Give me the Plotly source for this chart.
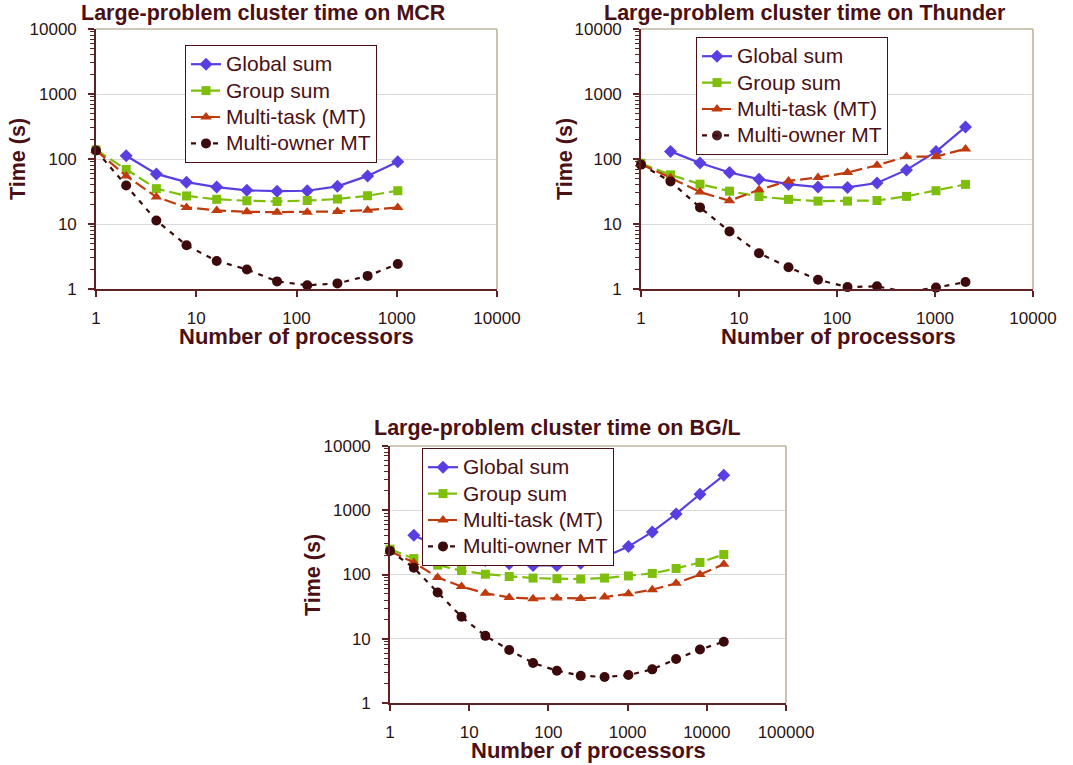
import plotly.graph_objects as go

# ---------------- data ----------------
series_names = ["Global sum", "Group sum", "Multi-task (MT)", "Multi-owner MT"]

mcr_procs = [1, 2, 4, 8, 16, 32, 64, 128, 256, 512, 1024]
mcr_global = [None, 112, 59, 44, 37, 33, 32, 32.5, 38, 55, 91]
mcr_group = [138, 69, 35, 27, 24, 22.8, 22.2, 23, 24.2, 27.2, 32.5]
mcr_mt = [136, 55, 26, 18, 16.2, 15.4, 15.2, 15.2, 15.6, 16.3, 18]
mcr_mo = [135, 39, 11.3, 4.7, 2.7, 2.0, 1.31, 1.14, 1.22, 1.59, 2.43]

thunder_procs = [1, 2, 4, 8, 16, 32, 64, 128, 256, 512, 1024, 2048]
thunder_global = [None, 131, 87, 62, 49, 41, 37, 36.5, 42.7, 68, 130, 312]
thunder_group = [86, 57, 41, 32, 26.5, 23.9, 22.5, 22.5, 23, 26.6, 32.5, 40.7]
thunder_mt = [83, 51.5, 31, 22.8, 33.6, 46, 52, 62, 80, 109, 109, 143]
thunder_mo = [82, 45, 18, 7.7, 3.55, 2.16, 1.39, 1.07, 1.1, 0.9, 1.05, 1.28]

bgl_procs = [1, 2, 4, 8, 16, 32, 64, 128, 256, 512, 1024, 2048, 4096, 8192, 16384]
bgl_global = [None, 409, 272, 202, 165, 147, 138, 138, 150, 188, 272, 460, 877, 1775, 3500]
bgl_group = [248, 177, 140, 115, 101, 93, 88, 86, 85, 88, 95, 104, 124, 154, 205]
bgl_mt = [230, 154, 90, 65, 51, 44, 42, 43, 42.4, 44.5, 50, 58, 73, 100, 145]
bgl_mo = [233, 127, 52.5, 22, 11.1, 6.7, 4.2, 3.18, 2.66, 2.54, 2.72, 3.34, 4.83, 6.8, 9.0]

titles = ["Large-problem cluster time on MCR",
          "Large-problem cluster time on Thunder",
          "Large-problem cluster time on BG/L"]
x_title = "Number of processors"
y_title = "Time (s)"

y_tickvals = [1, 10, 100, 1000, 10000]
y_ticktext = ["1", "10", "100", "1000", "10000"]
x_tickvals_top = [1, 10, 100, 1000, 10000]
x_ticktext_top = ["1", "10", "100", "1000", "10000"]
x_tickvals_bot = [1, 10, 100, 1000, 10000, 100000]
x_ticktext_bot = ["1", "10", "100", "1000", "10000", "100000"]

# ---------------- styles ----------------
W, H = 1073, 765
MAROON = "#4a1014"
AXIS = "#5e2224"
BORDER = "#bdb59e"
GRID = "#d9d9d9"
TICKC = "#2a1414"
FONT = "Liberation Sans, Arial, sans-serif"

styles = [
    dict(color="#5a3ee2", dash="solid", symbol="diamond", size=10, mcolor="#5a3ee2"),
    dict(color="#7dbf0a", dash="12px,5px", symbol="square", size=9, mcolor="#7dbf0a"),
    dict(color="#bf3a0c", dash="12px,5px", symbol="triangle-up", size=10, mcolor="#bf3a0c"),
    dict(color="#3d0a0c", dash="5px,6px", symbol="circle", size=10, mcolor="#3d0a0c"),
]

def px_x(p):
    return p / W

def px_y(p):
    return 1 - p / H

# plot areas in pixels: (left, right, top, bottom)
areas = [(96, 497, 29, 289), (641, 1033, 29, 289), (390, 786, 446, 703)]
legend_pos = [(185, 45), (696, 37), (422, 448)]
title_pos = [(263, 13), (805, 13), (557, 428)]
xtitle_pos = [(296, 336), (838, 336), (588, 750)]
ytitle_pos = [(18, 159), (565, 159), (313, 575)]

datasets = [
    (mcr_procs, [mcr_global, mcr_group, mcr_mt, mcr_mo]),
    (thunder_procs, [thunder_global, thunder_group, thunder_mt, thunder_mo]),
    (bgl_procs, [bgl_global, bgl_group, bgl_mt, bgl_mo]),
]

fig = go.Figure()
legend_names = ["legend", "legend2", "legend3"]

for i, (procs, series) in enumerate(datasets):
    ax = "" if i == 0 else str(i + 1)
    for name, vals, st in zip(series_names, series, styles):
        op = [0 if (v is not None and v < 1) else 1 for v in vals]
        fig.add_trace(go.Scatter(
            x=procs, y=vals, name='<span style="font-size:21px">' + name + "</span>",
            mode="lines+markers",
            xaxis="x" + ax, yaxis="y" + ax,
            legend=legend_names[i],
            connectgaps=False,
            cliponaxis=False,
            line=dict(color=st["color"], width=2.2, dash=st["dash"]),
            marker=dict(symbol=st["symbol"], size=st["size"], color=st["mcolor"],
                        opacity=op, line=dict(width=0)),
        ))

layout = dict(
    width=W, height=H,
    margin=dict(l=0, r=0, t=0, b=0, autoexpand=False),
    paper_bgcolor="white", plot_bgcolor="white",
    font=dict(family=FONT, color=MAROON),
    annotations=[], shapes=[],
)

for i in range(3):
    ax = "" if i == 0 else str(i + 1)
    l, r, t, b = areas[i]
    xdom = [px_x(l), px_x(r)]
    ydom = [px_y(b), px_y(t)]
    if i == 2:
        xr, xtv, xtt = [0, 5], x_tickvals_bot, x_ticktext_bot
    else:
        xr, xtv, xtt = [0, 4], x_tickvals_top, x_ticktext_top
    layout["xaxis" + ax] = dict(
        type="log", range=xr, domain=xdom, anchor="y" + ax, automargin=False,
        tickvals=xtv, ticktext=xtt,
        showgrid=False, zeroline=False,
        showline=True, linecolor=AXIS, linewidth=1.6,
        ticks="outside", ticklen=6, tickcolor=AXIS, tickwidth=1.5,
        tickfont=dict(size=17, color=TICKC, family=FONT),
        ticklabelstandoff=7,
    )
    layout["yaxis" + ax] = dict(
        type="log", range=[0, 4], domain=ydom, anchor="x" + ax, automargin=False,
        tickvals=y_tickvals, ticktext=y_ticktext,
        showgrid=True, gridcolor=GRID, gridwidth=1, zeroline=False,
        showline=True, linecolor=AXIS, linewidth=1.6,
        ticks="outside", ticklen=6, tickcolor=AXIS, tickwidth=1.5,
        minor=dict(ticks="outside", ticklen=4, tickcolor=AXIS, tickwidth=1,
                   dtick="D1", showgrid=False),
        tickfont=dict(size=17, color=TICKC, family=FONT),
        ticklabelstandoff=8,
    )
    lx, ly = legend_pos[i]
    layout[legend_names[i]] = dict(
        x=px_x(lx), y=px_y(ly), xanchor="left", yanchor="top",
        bgcolor="white", bordercolor=MAROON, borderwidth=1,
        font=dict(size=18, color=MAROON, family=FONT),
        tracegroupgap=0, itemwidth=30,
    )
    # top & right plot border
    layout["shapes"].append(dict(type="line", xref="x" + ax + " domain", yref="y" + ax + " domain",
                                 x0=0, x1=1, y0=1, y1=1, line=dict(color=BORDER, width=1.6)))
    layout["shapes"].append(dict(type="line", xref="x" + ax + " domain", yref="y" + ax + " domain",
                                 x0=1, x1=1, y0=0, y1=1, line=dict(color=BORDER, width=1.6)))
    tx, ty = title_pos[i]
    layout["annotations"].append(dict(
        text="<b>" + titles[i] + "</b>", x=px_x(tx), y=px_y(ty), xref="paper", yref="paper",
        xanchor="center", yanchor="middle", showarrow=False,
        font=dict(size=21.5, color=MAROON, family=FONT)))
    xx, xy = xtitle_pos[i]
    layout["annotations"].append(dict(
        text="<b>" + x_title + "</b>", x=px_x(xx), y=px_y(xy), xref="paper", yref="paper",
        xanchor="center", yanchor="middle", showarrow=False,
        font=dict(size=22, color=MAROON, family=FONT)))
    yx, yy = ytitle_pos[i]
    layout["annotations"].append(dict(
        text="<b>" + y_title + "</b>", x=px_x(yx), y=px_y(yy), xref="paper", yref="paper",
        xanchor="center", yanchor="middle", showarrow=False, textangle=-90,
        font=dict(size=21.5, color=MAROON, family=FONT)))

fig.update_layout(**layout)
fig.write_html("out.html", config={"displayModeBar": False},
               post_script="document.body.style.margin='0px';document.body.style.padding='0px';")
